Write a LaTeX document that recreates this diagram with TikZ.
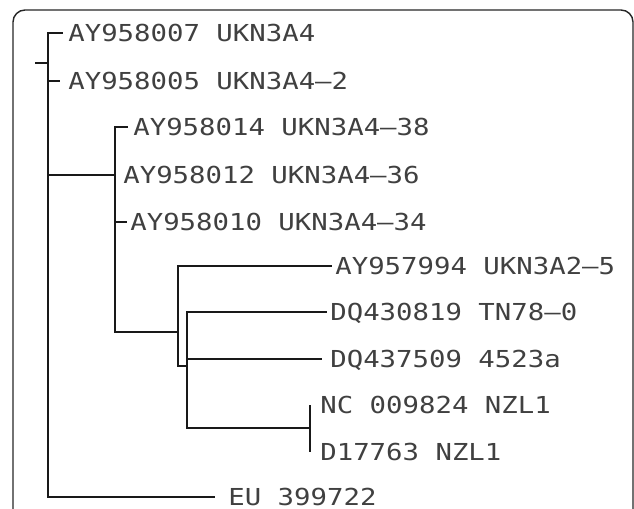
\documentclass[tikz,border=0pt]{standalone}
\usepackage{fontspec}
\newfontfamily\treefont[FakeStretch=1.17]{DejaVu Sans Mono}

\begin{document}
\begin{tikzpicture}[x=0.02cm,y=-0.02cm,
    branch/.style={line width=1.25pt,black!90},
    taxon/.style={anchor=west,inner ysep=0pt,inner xsep=0.08cm,
      text height=0.33cm,text depth=0pt,font=\treefont\fontsize{13.3}{14}\selectfont,
      text=black!75}]
  \useasboundingbox (0,0) rectangle (634,509);
  \clip (0,0) rectangle (634,509);
  \draw[line width=0.8pt,black!85,rounded corners=0.24cm] (13,10) rectangle (633,560);

  \coordinate (r0) at (35,63);
  \coordinate (n1) at (48,63);
  \coordinate (n2) at (115,175);
  \coordinate (n3) at (178,332);
  \coordinate (n4) at (187,366);
  \coordinate (n5) at (310,428);

  \node[taxon,inner xsep=0.1cm] (l1) at (63,33) {AY958007 UKN3A4};
  \node[taxon,inner xsep=0.16cm] (l2) at (60,81) {AY958005 UKN3A4–2};
  \node[taxon,inner xsep=0.1cm] (l3) at (128,127) {AY958014 UKN3A4–38};
  \node[taxon,inner xsep=0.16cm] (l4) at (n2) {AY958012 UKN3A4–36};
  \node[taxon,inner xsep=0.06cm] (l5) at (127,222) {AY958010 UKN3A4–34};
  \node[taxon,inner xsep=0.06cm] (l6) at (332,266) {AY957994 UKN3A2–5};
  \node[taxon,inner xsep=0.06cm] (l7) at (327,312) {DQ430819 TN78–0};
  \node[taxon,inner xsep=0.16cm] (l8) at (322,359) {DQ437509 4523a};
  \node[taxon,inner xsep=0.2cm] (l9) at (310,405) {NC 009824 NZL1};
  \node[taxon,inner xsep=0.2cm] (l10) at (310,452) {D17763 NZL1};
  \node[taxon,inner xsep=0.26cm] (l11) at (215,497) {EU 399722};

  \draw[branch] (r0) -- (n1);
  \draw[branch] (n1) |- (l1.west);
  \draw[branch] (n1) |- (l2.west);
  \draw[branch] (n1) |- (n2);
  \draw[branch] (n1) |- (l11.west);
  \draw[branch] (n2) |- (l3.west);
  \draw[branch] (n2) |- (l5.west);
  \draw[branch] (n2) |- (n3);
  \draw[branch] (n3) |- (l6.west);
  \draw[branch] (n3) |- (n4);
  \draw[branch] (n4) |- (l7.west);
  \draw[branch] (n4) |- (l8.west);
  \draw[branch] (n4) |- (n5);
  \draw[branch] (n5) |- (l9.west);
  \draw[branch] (n5) |- (l10.west);
\end{tikzpicture}
\end{document}
